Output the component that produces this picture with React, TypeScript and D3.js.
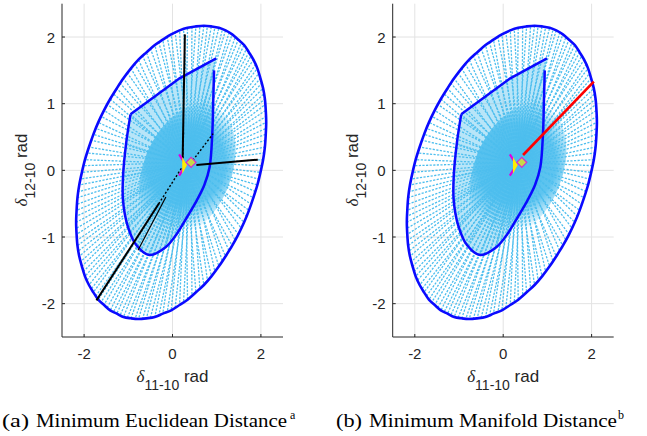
import React from "react";
import * as d3 from "d3";

// outer boundary of the region (rad)
const outerBoundary: [number, number][] = [
  [2.12, 0.72], [2.11, 0.9], [2.09, 1.07], [2.05, 1.23], [1.99, 1.38], [1.92, 1.53],
  [1.83, 1.66], [1.73, 1.77], [1.62, 1.88], [1.49, 1.96], [1.35, 2.04], [1.2, 2.1],
  [1.05, 2.14], [0.88, 2.16], [0.71, 2.17], [0.53, 2.16], [0.34, 2.14], [0.16, 2.1],
  [-0.03, 2.04], [-0.22, 1.96], [-0.4, 1.88], [-0.59, 1.77], [-0.77, 1.66], [-0.94, 1.53],
  [-1.11, 1.38], [-1.26, 1.23], [-1.41, 1.07], [-1.55, 0.9], [-1.68, 0.72], [-1.79, 0.54],
  [-1.89, 0.35], [-1.98, 0.16], [-2.05, -0.03], [-2.11, -0.22], [-2.15, -0.41], [-2.17, -0.6],
  [-2.18, -0.78], [-2.17, -0.96], [-2.15, -1.13], [-2.11, -1.29], [-2.05, -1.44], [-1.98, -1.59],
  [-1.89, -1.72], [-1.79, -1.83], [-1.68, -1.94], [-1.55, -2.02], [-1.41, -2.1], [-1.26, -2.15],
  [-1.11, -2.2], [-0.94, -2.22], [-0.77, -2.23], [-0.59, -2.22], [-0.4, -2.2], [-0.22, -2.15],
  [-0.03, -2.1], [0.16, -2.02], [0.34, -1.94], [0.53, -1.83], [0.71, -1.72], [0.88, -1.59],
  [1.05, -1.44], [1.2, -1.29], [1.35, -1.13], [1.49, -0.96], [1.62, -0.78], [1.73, -0.6],
  [1.83, -0.41], [1.92, -0.22], [1.99, -0.03], [2.05, 0.16], [2.09, 0.35], [2.11, 0.54],
];

// second set of ray end points on the outer boundary
const rayEnds: [number, number][] = [
  [2.12, 0.81], [2.1, 0.99], [2.07, 1.15], [2.02, 1.31], [1.96, 1.46], [1.88, 1.59],
  [1.78, 1.72], [1.68, 1.83], [1.56, 1.92], [1.42, 2.0], [1.28, 2.07], [1.13, 2.12],
  [0.96, 2.15], [0.79, 2.17], [0.62, 2.17], [0.44, 2.15], [0.25, 2.12], [0.06, 2.07],
  [-0.12, 2.0], [-0.31, 1.92], [-0.5, 1.83], [-0.68, 1.72], [-0.85, 1.59], [-1.02, 1.46],
  [-1.19, 1.31], [-1.34, 1.15], [-1.48, 0.99], [-1.62, 0.81], [-1.74, 0.63], [-1.84, 0.45],
  [-1.94, 0.26], [-2.02, 0.07], [-2.08, -0.13], [-2.13, -0.32], [-2.16, -0.51], [-2.18, -0.69],
  [-2.18, -0.87], [-2.16, -1.05], [-2.13, -1.21], [-2.08, -1.37], [-2.02, -1.52], [-1.94, -1.65],
  [-1.84, -1.78], [-1.74, -1.89], [-1.62, -1.98], [-1.48, -2.06], [-1.34, -2.13], [-1.19, -2.18],
  [-1.02, -2.21], [-0.85, -2.23], [-0.68, -2.23], [-0.5, -2.21], [-0.31, -2.18], [-0.12, -2.13],
  [0.06, -2.06], [0.25, -1.98], [0.44, -1.89], [0.62, -1.78], [0.79, -1.65], [0.96, -1.52],
  [1.13, -1.37], [1.28, -1.21], [1.42, -1.05], [1.56, -0.87], [1.68, -0.69], [1.78, -0.51],
  [1.88, -0.32], [1.96, -0.13], [2.02, 0.07], [2.07, 0.26], [2.1, 0.45], [2.12, 0.63],
];

// inner boundary: curved part, then the straight top edge
const innerCurve: [number, number][] = [
  [0.94, 1.5], [0.92, 1.0], [0.9, 0.55], [0.84, 0.05], [0.72, -0.22], [0.55, -0.45],
  [0.33, -0.7], [0.1, -0.95], [-0.15, -1.15], [-0.52, -1.27], [-0.82, -1.12],
  [-1.02, -0.82], [-1.12, -0.45], [-1.12, -0.1], [-1.05, 0.4], [-0.95, 0.84],
];
const innerTop: [number, number][] = [[-0.95, 0.84], [0.16, 1.38], [0.99, 1.68]];

// the two operating points the rays start from
const rayOrigins: [number, number][] = [[0.3, 0.1], [0.42, 0.12]];

// minimum euclidean distance paths (panel a)
const euclidSolid: [number, number][][] = [
  [[0.23, 0.18], [0.28, 2.04]],
  [[0.54, 0.08], [1.93, 0.16]],
  [[-0.3, -0.49], [-1.72, -1.95]],
];
const euclidThin: [number, number][][] = [
  [[-0.78, -1.2], [-0.15, -0.4]],
];
const euclidDotted: [number, number][][] = [
  [[0.2, 0.03], [-0.3, -0.49]],
  [[0.46, 0.15], [0.92, 0.55]],
  [[0.23, 0.18], [0.25, 0.6]],
];

// minimum manifold distance path (panel b)
const manifoldPath: [number, number][] = [[0.45, 0.23], [2.05, 1.33]];

// operating point markers
const yellowTri: [number, number][] = [[0.22, 0.2], [0.33, 0.08], [0.22, -0.05]];
const magentaChevron: [number, number][] = [[0.15, 0.24], [0.3, 0.08], [0.15, -0.08]];
const secondPoint: [number, number] = [0.42, 0.12];

const xTicks = [-2, 0, 2];
const yTicks = [-2, -1, 0, 1, 2];
const xGrid = [-2, 0, 2];
const yGrid = [-2, -1, 0, 1, 2];

const sans = "Liberation Sans, Arial, Helvetica, sans-serif";
const serif = "Liberation Serif, Times New Roman, Times, DejaVu Serif, serif";

type Pt = [number, number];

function Panel({ left, right, mode, id }: { left: number; right: number; mode: "a" | "b"; id: string }) {
  const x = d3.scaleLinear().domain([-2.5, 2.5]).range([left, right]);
  const y = d3.scaleLinear().domain([-2.5, 2.5]).range([337, 3.7]);
  const line = d3.line<Pt>().x(d => x(d[0])).y(d => y(d[1]));
  const smooth = d3.line<Pt>().x(d => x(d[0])).y(d => y(d[1])).curve(d3.curveCatmullRom.alpha(0.5));
  const closed = d3.line<Pt>().x(d => x(d[0])).y(d => y(d[1])).curve(d3.curveCardinalClosed);
  const top = y(2.5), bottom = y(-2.5);
  const cx = (left + right) / 2;
  const ox = x(rayOrigins[0][0]), oy = y(rayOrigins[0][1]);
  const ends = [outerBoundary, rayEnds];

  return (
    <g>
      <defs>
        <radialGradient id={"core" + id} cx={ox} cy={oy} r={66} gradientUnits="userSpaceOnUse">
          <stop offset="0" stopColor="#4dbeee" stopOpacity={1} />
          <stop offset="0.6" stopColor="#4dbeee" stopOpacity={0.9} />
          <stop offset="1" stopColor="#4dbeee" stopOpacity={0} />
        </radialGradient>
      </defs>
      {/* grid */}
      {xGrid.map(t => (
        <line key={"gx" + t} x1={x(t)} x2={x(t)} y1={top} y2={bottom} stroke="#e3e3e3" strokeWidth={1} />
      ))}
      {yGrid.map(t => (
        <line key={"gy" + t} x1={left} x2={right} y1={y(t)} y2={y(t)} stroke="#e3e3e3" strokeWidth={1} />
      ))}

      {/* dense core of the ray fan */}
      <path d={(smooth(innerCurve) || "") + (line(innerTop) || "").replace("M", "L") + "Z"} fill="#4dbeee" fillOpacity={0.4} />
      <ellipse cx={ox + 4} cy={oy + 6} rx={44} ry={70} fill={`url(#core${id})`} transform={`rotate(22 ${ox} ${oy})`} />

      {/* rays */}
      {rayOrigins.map((o, k) =>
        ends[k].map((p, i) => (
          <line key={"r" + k + "-" + i} x1={x(o[0])} y1={y(o[1])} x2={x(p[0])} y2={y(p[1])}
            stroke="#4dbeee" strokeWidth={1.3} strokeDasharray="2.2 1.4" />
        ))
      )}
      {innerCurve.map((p, i) => (
        <line key={"ri" + i} x1={ox} y1={oy} x2={x(p[0])} y2={y(p[1])}
          stroke="#4dbeee" strokeWidth={1.3} strokeDasharray="2 1" />
      ))}

      {/* boundaries */}
      <path d={smooth(innerCurve) || ""} fill="none" stroke="#0a0aff" strokeWidth={2.5} />
      <path d={line(innerTop) || ""} fill="none" stroke="#0a0aff" strokeWidth={2.5} />
      <path d={closed(outerBoundary) || ""} fill="none" stroke="#0a0aff" strokeWidth={2.6} />

      {mode === "a" && (
        <g>
          {euclidSolid.map((s, i) => (
            <path key={"es" + i} d={line(s) || ""} stroke="#000" strokeWidth={2} fill="none" />
          ))}
          {euclidThin.map((s, i) => (
            <path key={"et" + i} d={line(s) || ""} stroke="#000" strokeWidth={1.2} fill="none" />
          ))}
          {euclidDotted.map((s, i) => (
            <path key={"ed" + i} d={line(s) || ""} stroke="#000" strokeWidth={1.4} strokeDasharray="2 2" fill="none" />
          ))}
        </g>
      )}
      {mode === "b" && (
        <path d={line(manifoldPath) || ""} stroke="#ff0000" strokeWidth={2.6} fill="none" />
      )}

      {/* markers */}
      <path d={line(magentaChevron) || ""} fill="none" stroke="#e000e0" strokeWidth={2.2} />
      <path d={(line(yellowTri) || "") + "Z"} fill="#ffee00" stroke="none" />
      <path
        d={`M${x(secondPoint[0]) - 5},${y(secondPoint[1])}L${x(secondPoint[0])},${y(secondPoint[1]) - 5}L${x(secondPoint[0]) + 5},${y(secondPoint[1])}L${x(secondPoint[0])},${y(secondPoint[1]) + 5}Z`}
        fill="#c8d84a" stroke="#d030d0" strokeWidth={1.3} />

      {/* axes */}
      <line x1={left} x2={left} y1={top} y2={bottom} stroke="#262626" strokeWidth={1} />
      <line x1={left} x2={right} y1={bottom} y2={bottom} stroke="#262626" strokeWidth={1} />
      {yTicks.map(t => (
        <g key={"yt" + t}>
          <line x1={left} x2={left + 3} y1={y(t)} y2={y(t)} stroke="#262626" />
          <text x={left - 7} y={y(t) + 5.5} textAnchor="end" style={{ fontFamily: sans }} fontSize={15} fill="#262626">{t}</text>
        </g>
      ))}
      {xTicks.map(t => (
        <g key={"xt" + t}>
          <line x1={x(t)} x2={x(t)} y1={bottom} y2={bottom - 3} stroke="#262626" />
          <text x={x(t)} y={bottom + 22} textAnchor="middle" style={{ fontFamily: sans }} fontSize={15} fill="#262626">{t}</text>
        </g>
      ))}

      {/* axis labels */}
      <text x={cx} y={382} textAnchor="middle" style={{ fontFamily: sans }} fontSize={17} fill="#262626">
        <tspan style={{ fontFamily: serif }} fontStyle="italic">δ</tspan>
        <tspan fontSize={14} dy={8}>11-10</tspan>
        <tspan dy={-8}> rad</tspan>
      </text>
      <text transform={`translate(${left - 35},170) rotate(-90)`} textAnchor="middle" style={{ fontFamily: sans }} fontSize={17} fill="#262626">
        <tspan style={{ fontFamily: serif }} fontStyle="italic">δ</tspan>
        <tspan fontSize={14} dy={8}>12-10</tspan>
        <tspan dy={-8}> rad</tspan>
      </text>
    </g>
  );
}

export default function App() {
  return (
    <svg width={647} height={436} style={{ position: "absolute", left: 0, top: 0, background: "#fff" }}>
      <Panel left={62} right={283} mode="a" id="a" />
      <Panel left={392.7} right={613.7} mode="b" id="b" />
      <g style={{ fontFamily: serif }} fontSize={18} fill="#000">
        <text x={2} y={427} textLength={27} lengthAdjust="spacingAndGlyphs">(a)</text>
        <text x={36} y={427} textLength={251} lengthAdjust="spacingAndGlyphs">Minimum Euclidean Distance</text>
        <text x={290} y={419} fontSize={12}>a</text>
        <text x={336} y={427} textLength={26} lengthAdjust="spacingAndGlyphs">(b)</text>
        <text x={369} y={427} textLength={248} lengthAdjust="spacingAndGlyphs">Minimum Manifold Distance</text>
        <text x={618} y={419} fontSize={12}>b</text>
      </g>
    </svg>
  );
}
